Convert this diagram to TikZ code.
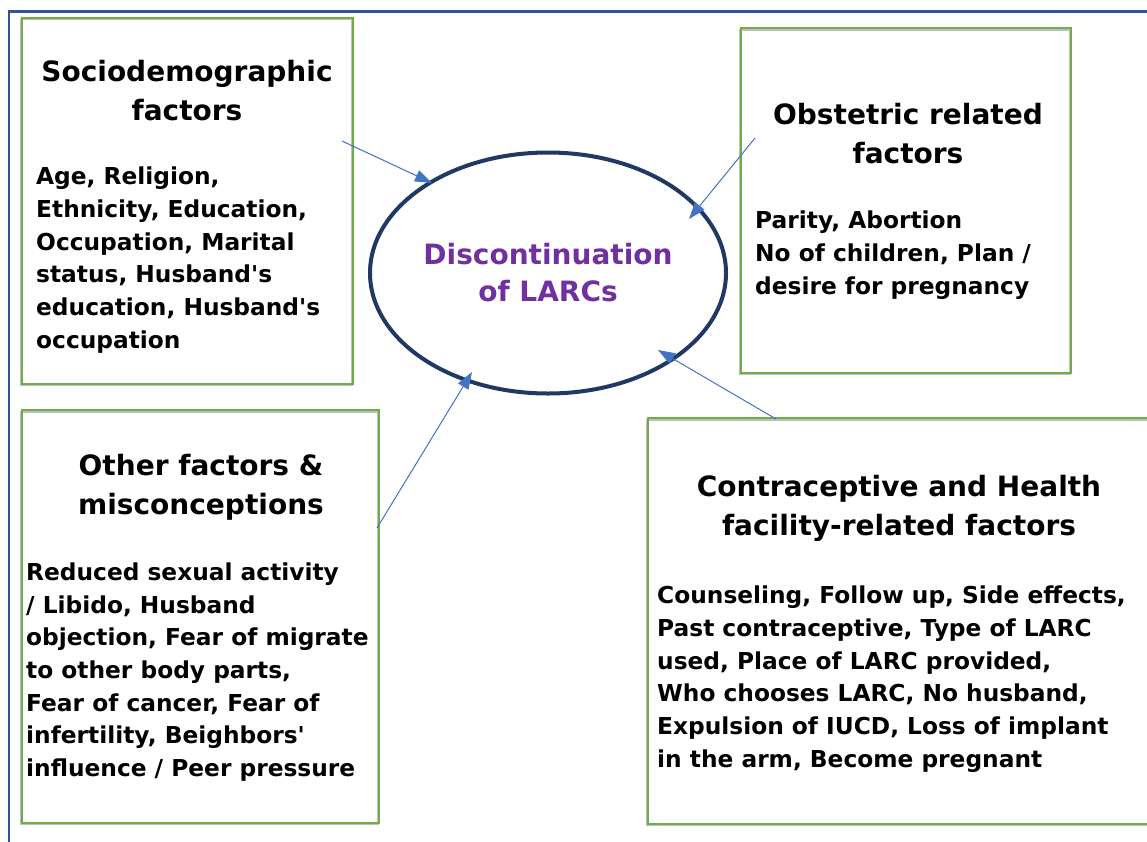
\documentclass[tikz,border=0pt]{standalone}
\usepackage{fontspec}
\newfontfamily\dv{DejaVu Sans}
\usetikzlibrary{shapes.geometric,arrows.meta}
\definecolor{boxgreen}{HTML}{70AD47}
\definecolor{framblue}{HTML}{2F5597}
\definecolor{arrblue}{HTML}{4472C4}
\definecolor{navy}{HTML}{1F3864}
\definecolor{purp}{HTML}{7030A0}
\tikzset{
  factorbox/.style={draw=boxgreen,line width=1.8pt},
  boxshadow/.style={draw=black!25,line width=1.8pt},
  ttl/.style={inner sep=0pt,align=center,font=\dv\bfseries\fontsize{28}{39}\selectfont},
  bdy/.style={inner sep=0pt,align=left,anchor=west,font=\dv\bfseries\fontsize{23.3}{32.7}\selectfont},
  arr/.style={draw=arrblue,line width=1pt,-{Triangle[length=17pt,width=12pt]}},
}
\begin{document}
\begin{tikzpicture}[x=1pt,y=-1pt]
\useasboundingbox (0,0) rectangle (1147,841);
% outer frame
\draw[framblue,line width=2.4pt] (9,842) -- (9,11.5) -- (1150,11.5);
% shadows
\draw[boxshadow] (21,19) rectangle (352,385);
\draw[boxshadow] (740,30) rectangle (1070,374);
\draw[boxshadow] (21,412) rectangle (378,824);
\draw[boxshadow] (647,420) rectangle (1160,825);
% boxes
\node[factorbox,minimum width=331pt,minimum height=366pt,anchor=north west] (b1) at (21,17) {};
\node[factorbox,minimum width=330pt,minimum height=345pt,anchor=north west] (b2) at (740,27) {};
\node[factorbox,minimum width=357pt,minimum height=413pt,anchor=north west] (b3) at (21,409) {};
\node[factorbox,minimum width=513pt,minimum height=406pt,anchor=north west] (b4) at (647,417) {};
% ellipse
\node[ellipse,draw=navy,line width=4pt,minimum width=356pt,minimum height=241pt,inner sep=0pt,
      text=purp,align=center,font=\dv\bfseries\fontsize{28}{37}\selectfont] (ell) at (548,273)
      {Discontinuation\\of LARCs};
% titles
\node[ttl] (t1) at (187,91) {Sociodemographic\\factors};
\node[ttl] (t2) at (908,134) {Obstetric related\\factors};
\node[ttl] (t3) at (201,487) {Other factors \&\\misconceptions};
\node[ttl] (t4) at (899,508) {Contraceptive and Health\\facility-related factors};
% bodies
\node[bdy] (d1) at (36,260) {Age, Religion,\\Ethnicity, Education,\\Occupation, Marital\\status, Husband's\\education, Husband's\\occupation};
\node[bdy] (d2) at (755,255) {Parity, Abortion\\No of children, Plan /\\desire for pregnancy};
\node[bdy] (d3) at (26,672) {Reduced sexual activity\\/ Libido, Husband\\objection, Fear of migrate\\to other body parts,\\Fear of cancer, Fear of\\infertility, Beighbors'\\influence / Peer pressure};
\node[bdy] (d4) at (657,679) {Counseling, Follow up, Side effects,\\Past contraceptive, Type of LARC\\used, Place of LARC provided,\\Who chooses LARC, No husband,\\Expulsion of IUCD, Loss of implant\\in the arm, Become pregnant};
% arrows
\coordinate (s1) at (342,141); \coordinate (e1) at (432,183);
\coordinate (s2) at (755,138); \coordinate (e2) at (689,219);
\coordinate (s3) at (377,528); \coordinate (e3) at (472,372);
\coordinate (s4) at (776,419); \coordinate (e4) at (658,350);
\draw[arr] (s1) -- (e1);
\draw[arr] (s2) -- (e2);
\draw[arr] (s3) -- (e3);
\draw[arr] (s4) -- (e4);
\end{tikzpicture}
\end{document}
